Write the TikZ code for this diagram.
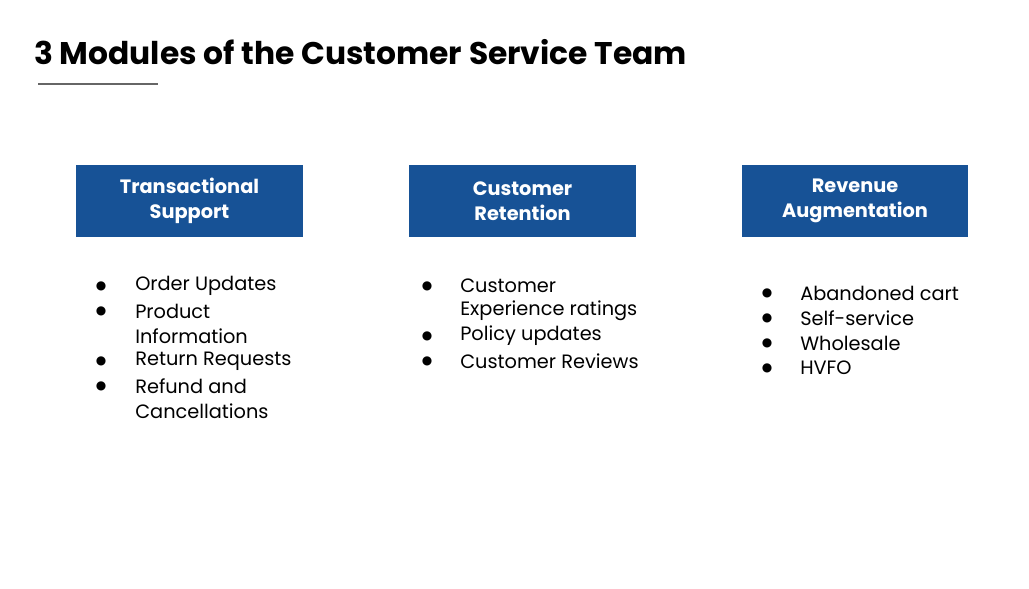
\documentclass[tikz,border=0pt]{standalone}
\usepackage{fontspec}
\setmainfont{Poppins}
\newfontfamily\symfont{DejaVu Sans}
\usetikzlibrary{positioning}

\begin{document}
\begin{tikzpicture}[
                x=0.75pt, y=-0.75pt,
                module/.style={fill=modblue, text=white, font=\bfseries\fontsize{14.5}{18.5}\selectfont,
                    minimum width=170pt, minimum height=54pt, align=center, inner sep=0pt},
                item/.style={anchor=west, inner sep=0pt, font=\fontsize{14.5}{17}\selectfont},
                dot/.style={anchor=center, inner sep=0pt, font=\symfont\fontsize{9}{10}\selectfont}
            ]
            \definecolor{modblue}{HTML}{175296}
            \useasboundingbox (0,0) rectangle (1029,589);

            % Title
            \node[anchor=west, inner sep=0pt, font=\bfseries\fontsize{23.5}{28}\selectfont] (title) at (34,52) {3 Modules of the Customer Service Team};
            \draw[line width=2.2pt, color=black!60] (38,84) -- (158,84);

            % Module boxes
            \node[module] (M-1) at (189.5,201) {Transactional\\Support};
            \node[module] (M-2) at (522.5,201) {Customer\\Retention};
            \node[module] (M-3) at (855,201) {Revenue\\Augmentation};

            % First list
            \foreach \y/\b/\t [count=\i] in {286/1/Order Updates, 311/1/Product, 336/0/Information,
                    361/1/Return Requests, 386/1/Refund and, 411/0/Cancellations}
            {
                \node[item] (A-\i) at (135,\y) {\t};
                \ifnum\b=1 \node[dot] (A-dot-\i) at (101,\y) {●}; \fi
            }

            % Second list
            \foreach \y/\b/\t [count=\i] in {286/1/Customer, 311/0/Experience ratings,
                    336/1/Policy updates, 361/1/Customer Reviews}
            {
                \node[item] (B-\i) at (460,\y) {\t};
                \ifnum\b=1 \node[dot] (B-dot-\i) at (427,\y) {●}; \fi
            }

            % Third list
            \foreach \y/\t [count=\i] in {293/Abandoned cart, 318/Self-service, 343/Wholesale, 368/HVFO}
            {
                \node[item] (C-\i) at (800,\y) {\t};
                \node[dot] (C-dot-\i) at (767,\y) {●};
            }

        \end{tikzpicture}
\end{document}
